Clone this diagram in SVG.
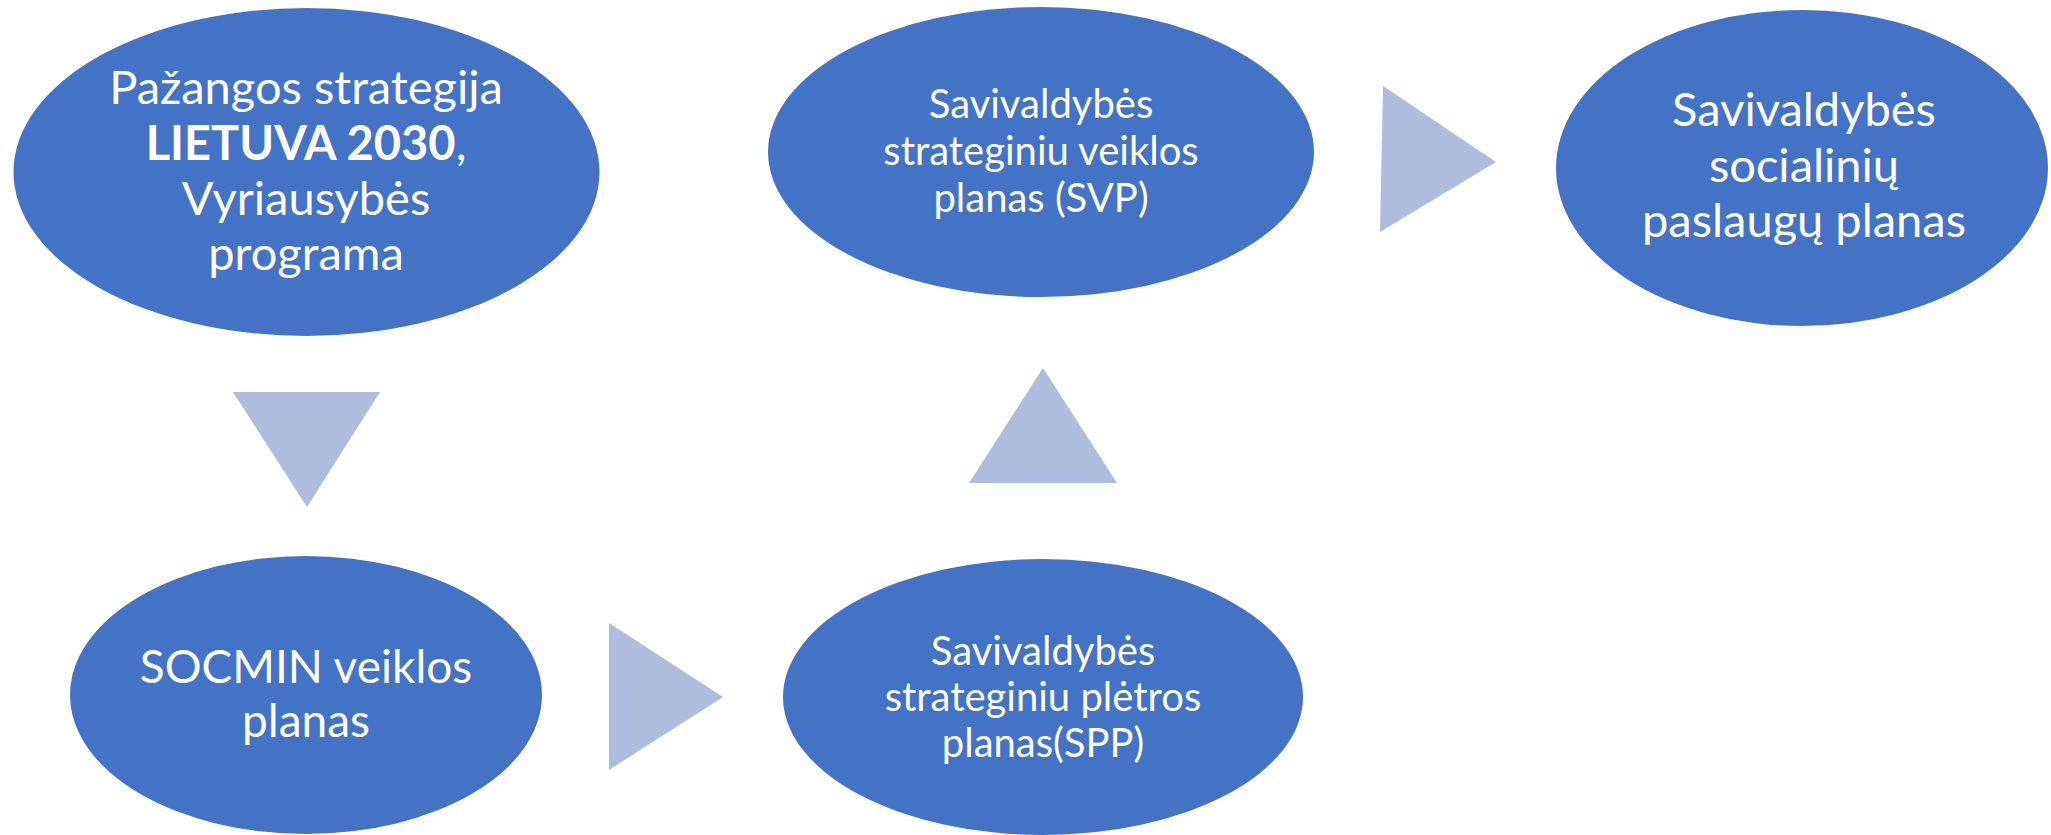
<svg xmlns="http://www.w3.org/2000/svg" width="2051" height="835" viewBox="0 0 2051 835">
<style>
.node{fill:#4472C4}
.arrow{fill:#AFBCDD}
.lbl{fill:#FFFFFF;font-family:Lato,"Noto Sans",sans-serif;text-anchor:middle}
.big{font-size:47px}
.small{font-size:40px}
</style>
<rect width="2051" height="835" fill="#FFFFFF"/>
<g id="connectors">
<polygon class="arrow" points="233,392 380,392 307,507"/>
<polygon class="arrow" points="609,623 609,770 723,697"/>
<polygon class="arrow" points="969,483 1117,483 1043,368"/>
<polygon class="arrow" points="1383,86 1380,232 1496,162"/>
</g>
<g id="node-lietuva">
<ellipse class="node" cx="306.5" cy="172" rx="293" ry="164"/>
<text class="lbl big"><tspan x="306" y="104">Pažangos strategija</tspan><tspan x="306" y="160"><tspan font-weight="bold">LIETUVA 2030</tspan>,</tspan><tspan x="306" y="215">Vyriausybės</tspan><tspan x="306" y="270">programa</tspan></text>
</g>
<g id="node-socmin">
<ellipse class="node" cx="306" cy="695" rx="236" ry="139"/>
<text class="lbl big" style="font-size:46px"><tspan x="306" y="683">SOCMIN veiklos</tspan><tspan x="306" y="737">planas</tspan></text>
</g>
<g id="node-spp">
<ellipse class="node" cx="1043" cy="697" rx="260" ry="138"/>
<text class="lbl small"><tspan x="1043" y="665">Savivaldybės</tspan><tspan x="1043" y="711">strateginiu plėtros</tspan><tspan x="1043" y="757">planas(SPP)</tspan></text>
</g>
<g id="node-svp">
<ellipse class="node" cx="1041" cy="152" rx="273" ry="145"/>
<text class="lbl small"><tspan x="1041" y="118">Savivaldybės</tspan><tspan x="1041" y="165">strateginiu veiklos</tspan><tspan x="1041" y="212">planas (SVP)</tspan></text>
</g>
<g id="node-social">
<ellipse class="node" cx="1802" cy="168" rx="246" ry="158"/>
<text class="lbl big"><tspan x="1804" y="126">Savivaldybės</tspan><tspan x="1804" y="182">socialinių</tspan><tspan x="1804" y="237">paslaugų planas</tspan></text>
</g>
</svg>
